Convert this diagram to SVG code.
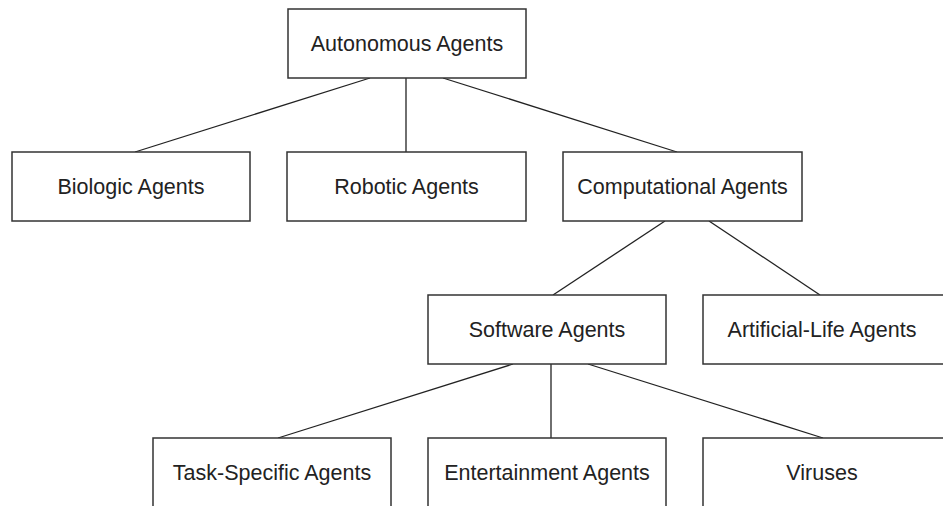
<svg xmlns="http://www.w3.org/2000/svg" width="943" height="506" viewBox="0 0 943 506">
<style>
.box{fill:#fff;stroke:#333;stroke-width:1.5}
.lbl{font-family:"Liberation Sans",Arial,sans-serif;font-size:21.5px;fill:#222;text-anchor:middle}
.con line{stroke:#222;stroke-width:1.3}
</style>
<rect width="943" height="506" fill="#fff"/>
<g class="con">
<line x1="370" y1="78" x2="135" y2="152"/>
<line x1="406" y1="78" x2="406" y2="152"/>
<line x1="443" y1="78" x2="677" y2="152"/>
<line x1="665" y1="221" x2="553" y2="295"/>
<line x1="709" y1="221" x2="820" y2="295"/>
<line x1="513" y1="364" x2="278" y2="438"/>
<line x1="551" y1="364" x2="551" y2="438"/>
<line x1="588" y1="364" x2="823" y2="438"/>
</g>
<g id="autonomous"><rect class="box" x="288" y="9" width="238" height="69"/><text class="lbl" x="407" y="51">Autonomous Agents</text></g>
<g id="biologic"><rect class="box" x="12" y="152" width="238" height="69"/><text class="lbl" x="131" y="194">Biologic Agents</text></g>
<g id="robotic"><rect class="box" x="287" y="152" width="239" height="69"/><text class="lbl" x="406.5" y="194">Robotic Agents</text></g>
<g id="computational"><rect class="box" x="563" y="152" width="239" height="69"/><text class="lbl" x="682.5" y="194">Computational Agents</text></g>
<g id="software"><rect class="box" x="428" y="295" width="238" height="69"/><text class="lbl" x="547" y="337">Software Agents</text></g>
<g id="artificial"><rect class="box" x="703" y="295" width="245" height="69"/><text class="lbl" x="822" y="337">Artificial-Life Agents</text></g>
<g id="task"><rect class="box" x="153" y="438" width="238" height="80"/><text class="lbl" x="272" y="480">Task-Specific Agents</text></g>
<g id="entertainment"><rect class="box" x="428" y="438" width="238" height="80"/><text class="lbl" x="547" y="480">Entertainment Agents</text></g>
<g id="viruses"><rect class="box" x="703" y="438" width="245" height="80"/><text class="lbl" x="822" y="480">Viruses</text></g>
</svg>
